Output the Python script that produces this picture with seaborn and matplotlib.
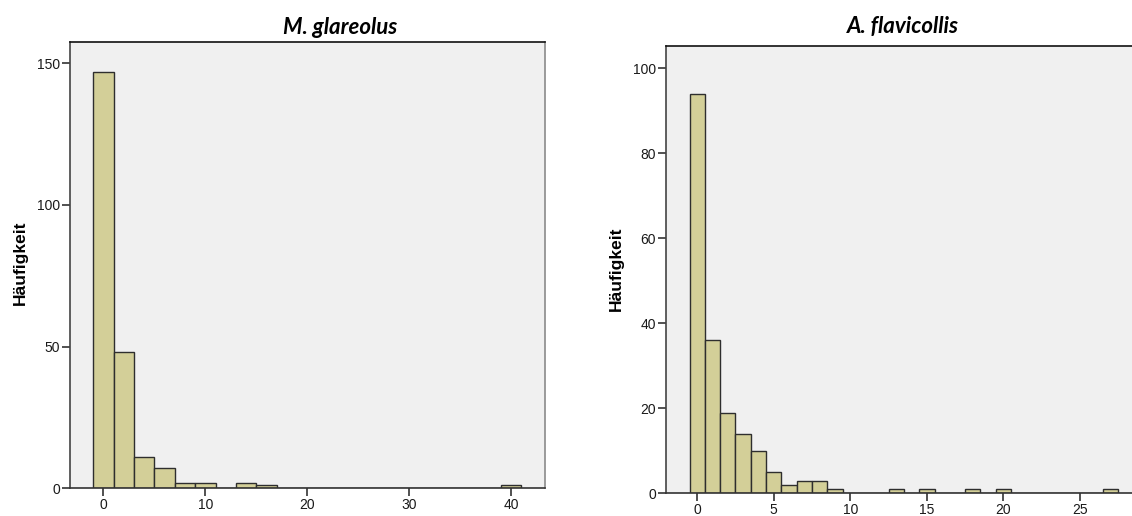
import matplotlib
matplotlib.use("Agg")
import matplotlib.pyplot as plt
import seaborn as sns
import pandas as pd

# Counts per bin for each species (bin centres and frequencies)
glareolus_centres = [0, 2, 4, 6, 8, 10, 14, 16, 40]
glareolus_counts = [147, 48, 11, 7, 2, 2, 2, 1, 1]
glareolus_yticks = [0, 50, 100, 150]
glareolus_xticks = [0, 10, 20, 30, 40]

flavicollis_centres = [0, 1, 2, 3, 4, 5, 6, 7, 8, 9, 13, 15, 18, 20, 27]
flavicollis_counts = [94, 36, 19, 14, 10, 5, 2, 3, 3, 1, 1, 1, 1, 1, 1]
flavicollis_yticks = [0, 20, 40, 60, 80, 100]
flavicollis_xticks = [0, 5, 10, 15, 20, 25]

titles = ["M. glareolus", "A. flavicollis"]
ylabel = "Häufigkeit"

sns.set_theme(style="white")
plt.rcParams["font.family"] = ["Liberation Sans", "DejaVu Sans"]

BAR = "#D3CF98"
EDGE = "#2E2E2E"
BG = "#F0F0F0"

fig = plt.figure(figsize=(11.32, 5.16), dpi=100)
ax1 = fig.add_axes([0.0618, 0.0537, 0.4196, 0.8655])
ax2 = fig.add_axes([0.5883, 0.0440, 0.4196, 0.8669])

df1 = pd.DataFrame({"x": glareolus_centres, "n": glareolus_counts})
df2 = pd.DataFrame({"x": flavicollis_centres, "n": flavicollis_counts})

sns.histplot(data=df1, x="x", weights="n", binwidth=2, binrange=(-1, 41),
             color=BAR, edgecolor=EDGE, linewidth=1.0, alpha=1, ax=ax1)
sns.histplot(data=df2, x="x", weights="n", discrete=True,
             color=BAR, edgecolor=EDGE, linewidth=1.0, alpha=1, ax=ax2)

ax1.set_xlim(-3.27, 43.3)
ax1.set_ylim(0, 157.6)
ax2.set_xlim(-2.04, 28.98)
ax2.set_ylim(0, 105.2)

for ax, xt, yt in [(ax1, glareolus_xticks, glareolus_yticks),
                   (ax2, flavicollis_xticks, flavicollis_yticks)]:
    ax.set_facecolor(BG)
    ax.set_xticks(xt)
    ax.set_yticks(yt)
    ax.set_xlabel("")
    ax.set_ylabel("")
    ax.tick_params(axis="both", which="major", direction="out", length=5.5,
                   width=1.2, color="#333333", labelsize=10, pad=1.5,
                   labelcolor="#1A1A1A", bottom=True, left=True)
    for lbl in ax.get_xticklabels() + ax.get_yticklabels():
        lbl.set_family(["Liberation Sans", "DejaVu Sans"])
    ax.grid(False)
    ax.spines["top"].set_color("#111111")
    ax.spines["top"].set_linewidth(1.2)
    ax.spines["right"].set_color("#8A8A8A")
    ax.spines["right"].set_linewidth(1.2)
    ax.spines["left"].set_color("#444444")
    ax.spines["left"].set_linewidth(1.2)
    ax.spines["bottom"].set_color("#333333")
    ax.spines["bottom"].set_linewidth(1.2)

# Species titles and y-axis labels
fig.text(340 / 1132, 1 - 27 / 516, titles[0], ha="center", va="center",
         family=["Lato", "DejaVu Sans"], fontweight="bold", fontstyle="italic",
         fontsize=16, color="black")
fig.text(903 / 1132, 1 - 27 / 516, titles[1], ha="center", va="center",
         family=["Lato", "DejaVu Sans"], fontweight="bold", fontstyle="italic",
         fontsize=16, color="black")
fig.text(20 / 1132, 1 - 263 / 516, ylabel, ha="center", va="center",
         rotation=90, fontweight="bold", fontsize=12.5, color="black",
         family=["Liberation Sans", "DejaVu Sans"])
fig.text(616 / 1132, 1 - 269 / 516, ylabel, ha="center", va="center",
         rotation=90, fontweight="bold", fontsize=12.5, color="black",
         family=["Liberation Sans", "DejaVu Sans"])

fig.savefig("out.png", dpi=100)
